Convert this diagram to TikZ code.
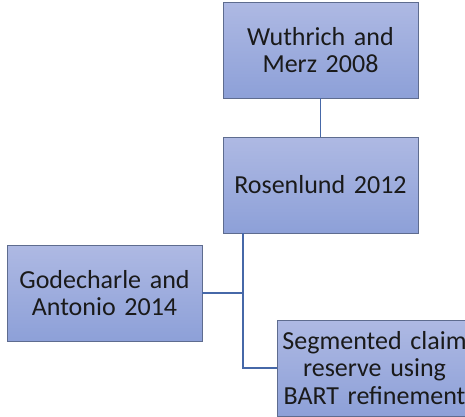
\documentclass[tikz,border=0pt]{standalone}
\usepackage{fontspec}
\setmainfont{Carlito}
\usepackage{tikz}

\definecolor{boxtop}{HTML}{AEB9E3}
\definecolor{boxbot}{HTML}{8DA0D8}
\definecolor{boxline}{HTML}{5E6C8F}
\definecolor{linkblue}{HTML}{4668A8}
\definecolor{inktext}{HTML}{1A1A1A}

\begin{document}
\begin{tikzpicture}[x=1pt,y=-1pt,line width=.8pt,
  paper/.style={draw=boxline,top color=boxtop,bottom color=boxbot,minimum width=195pt,minimum height=96pt,
    text width=190pt,align=center,inner sep=0pt,text=inktext,font=\fontsize{26}{27.5}\selectfont},
  link/.style={draw=linkblue,line width=1.8pt}]
\useasboundingbox (0,0) rectangle (465,416);
\node[paper] (wm) at (320.5,50) {Wuthrich and\\Merz 2008};
\node[paper] (ros) at (320.5,185) {Rosenlund 2012};
\node[paper] (god) at (104.5,293) {Godecharle and\\Antonio 2014};
\node[paper] (seg) at (374.5,368) {Segmented claim\\reserve using\\BART refinement};
\coordinate (trunk) at (243,0);
\draw[link] (wm) -- (ros);
\draw[link] (ros.south -| trunk) |- (seg.west);
\draw[link] (god.east) -- (god.east -| trunk);
\end{tikzpicture}
\end{document}
